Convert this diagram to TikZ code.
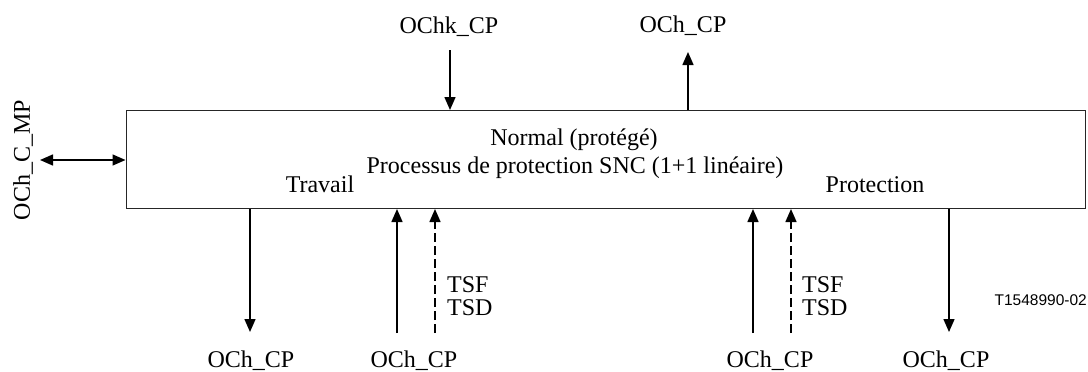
\documentclass[tikz,border=0pt]{standalone}
\usepackage{fontspec}
\setmainfont{Liberation Serif}
\newfontfamily\sansf{Liberation Sans}
\usetikzlibrary{arrows.meta}
\begin{document}
\begin{tikzpicture}[x=1pt,y=-1pt,
  lbl/.style={font=\fontsize{24}{28}\selectfont, inner sep=0pt, anchor=base},
  lblw/.style={lbl, anchor=base west},
  arr/.style={line width=1.5pt, -{Triangle[length=13pt,width=11pt]}},
  dblarr/.style={line width=1.5pt, {Triangle[length=13pt,width=11pt]}-{Triangle[length=13pt,width=11pt]}},
  dasharr/.style={arr, dash pattern=on 9pt off 4pt},
]
\useasboundingbox (0,0) rectangle (1088,372);
\node[draw=black!85, line width=1pt, minimum width=959pt, minimum height=98pt, inner sep=0pt] (box) at (605.5,159.5) {};

\node[lbl] (normal) at (574,145) {Normal (protégé)};
\node[lbl] (proc) at (575,173) {Processus de protection SNC (1+1 linéaire)};
\node[lbl] (trav) at (320,192) {Travail};
\node[lbl] (prot) at (875,192) {Protection};

\node[lbl] (ochk) at (449,33) {OChk\_CP};
\node[lbl] (ochtop) at (683,32) {OCh\_CP};
\node[lbl, rotate=90] (mp) at (30,160) {OCh\_C\_MP};

\node[lbl] (o1) at (251,367) {OCh\_CP};
\node[lbl] (o2) at (414,367) {OCh\_CP};
\node[lbl] (o3) at (770,367) {OCh\_CP};
\node[lbl] (o4) at (946,367) {OCh\_CP};

\node[lblw] (tsf1) at (447,292) {TSF};
\node[lblw] (tsd1) at (447,315) {TSD};
\node[lblw] (tsf2) at (802,292) {TSF};
\node[lblw] (tsd2) at (802,315) {TSD};

\node[font=\sansf\fontsize{15.5}{18}\selectfont, inner sep=0pt, anchor=base east] (ref) at (1087,305) {T1548990-02};

\coordinate (a1) at (450,50);
\coordinate (a2) at (688,52);
\coordinate (a3) at (40,160);
\draw[arr] (a1) -- (a1 |- box.north);
\draw[arr] (a2 |- box.north) -- (a2);
\draw[dblarr] (a3) -- (a3 -| box.west);

\coordinate (b1) at (250,332);
\coordinate (b2) at (397,333);
\coordinate (b3) at (435,333);
\coordinate (b4) at (753,333);
\coordinate (b5) at (791,333);
\coordinate (b6) at (949,332);
\draw[arr] (b1 |- box.south) -- (b1);
\draw[arr] (b2) -- (b2 |- box.south);
\draw[dasharr] (b3) -- (b3 |- box.south);
\draw[arr] (b4) -- (b4 |- box.south);
\draw[dasharr] (b5) -- (b5 |- box.south);
\draw[arr] (b6 |- box.south) -- (b6);
\end{tikzpicture}
\end{document}
